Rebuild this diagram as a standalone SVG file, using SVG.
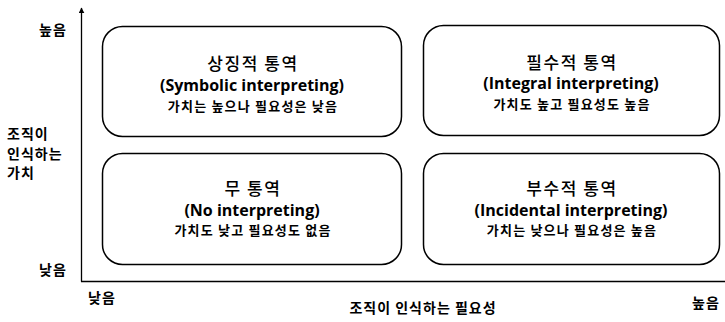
<svg xmlns="http://www.w3.org/2000/svg" width="725" height="322" viewBox="0 0 725 322">
<defs>
<marker id="arr" viewBox="0 0 10 10" refX="9" refY="5" markerWidth="6" markerHeight="6" orient="auto" markerUnits="userSpaceOnUse">
<path d="M0,0 L10,5 L0,10 z" fill="#000"/>
</marker>
<style>
.box{fill:#fff;stroke:#000;stroke-width:1.5}
.t{font-family:"Noto Sans CJK KR","Noto Sans",sans-serif;fill:#000;text-anchor:middle}
.title{font-size:17px;font-weight:500;letter-spacing:1.6px}
.en{font-size:16px;font-weight:bold;font-family:"Open Sans","Noto Sans CJK KR",sans-serif}
.sub{font-size:13px;font-weight:bold;letter-spacing:1.2px}
.ax{font-family:"Noto Sans CJK KR",sans-serif;font-size:14px;font-weight:bold;fill:#000;letter-spacing:1px}
.axis{stroke:#000;stroke-width:1.3;fill:none}
</style>
</defs>
<rect width="725" height="322" fill="#fff"/>
<g id="connectors">
<line class="axis" x1="81.5" y1="281.5" x2="81.5" y2="8" marker-end="url(#arr)"/>
<line class="axis" x1="81" y1="281.5" x2="725" y2="281.5"/>
</g>
<g id="symbolic">
<rect class="box" x="102.5" y="26.5" width="299" height="110" rx="20"/>
<text class="t title" x="253" y="70">상징적 통역</text>
<text class="t en" x="252" y="91">(Symbolic interpreting)</text>
<text class="t sub" x="253" y="111">가치는 높으나 필요성은 낮음</text>
</g>
<g id="integral">
<rect class="box" x="423.5" y="25.5" width="296" height="110" rx="20"/>
<text class="t title" x="572" y="69">필수적 통역</text>
<text class="t en" x="571" y="89">(Integral interpreting)</text>
<text class="t sub" x="572" y="109">가치도 높고 필요성도 높음</text>
</g>
<g id="none">
<rect class="box" x="102.5" y="153.5" width="299" height="111" rx="20"/>
<text class="t title" x="253" y="195">무 통역</text>
<text class="t en" x="252" y="216">(No interpreting)</text>
<text class="t sub" x="253" y="235">가치도 낮고 필요성도 없음</text>
</g>
<g id="incidental">
<rect class="box" x="423.5" y="153.5" width="296" height="111" rx="20"/>
<text class="t title" x="572" y="195">부수적 통역</text>
<text class="t en" x="571" y="216">(Incidental interpreting)</text>
<text class="t sub" x="572" y="235">가치는 낮으나 필요성은 높음</text>
</g>
<g id="axis-labels">
<text class="ax" x="39" y="35">높음</text>
<text class="ax" x="7" y="139">조직이</text>
<text class="ax" x="7" y="159">인식하는</text>
<text class="ax" x="7" y="178">가치</text>
<text class="ax" x="39" y="275">낮음</text>
<text class="ax" x="88" y="303">낮음</text>
<text class="ax" x="423" y="313" text-anchor="middle">조직이 인식하는 필요성</text>
<text class="ax" x="692" y="308">높음</text>
</g>
</svg>
